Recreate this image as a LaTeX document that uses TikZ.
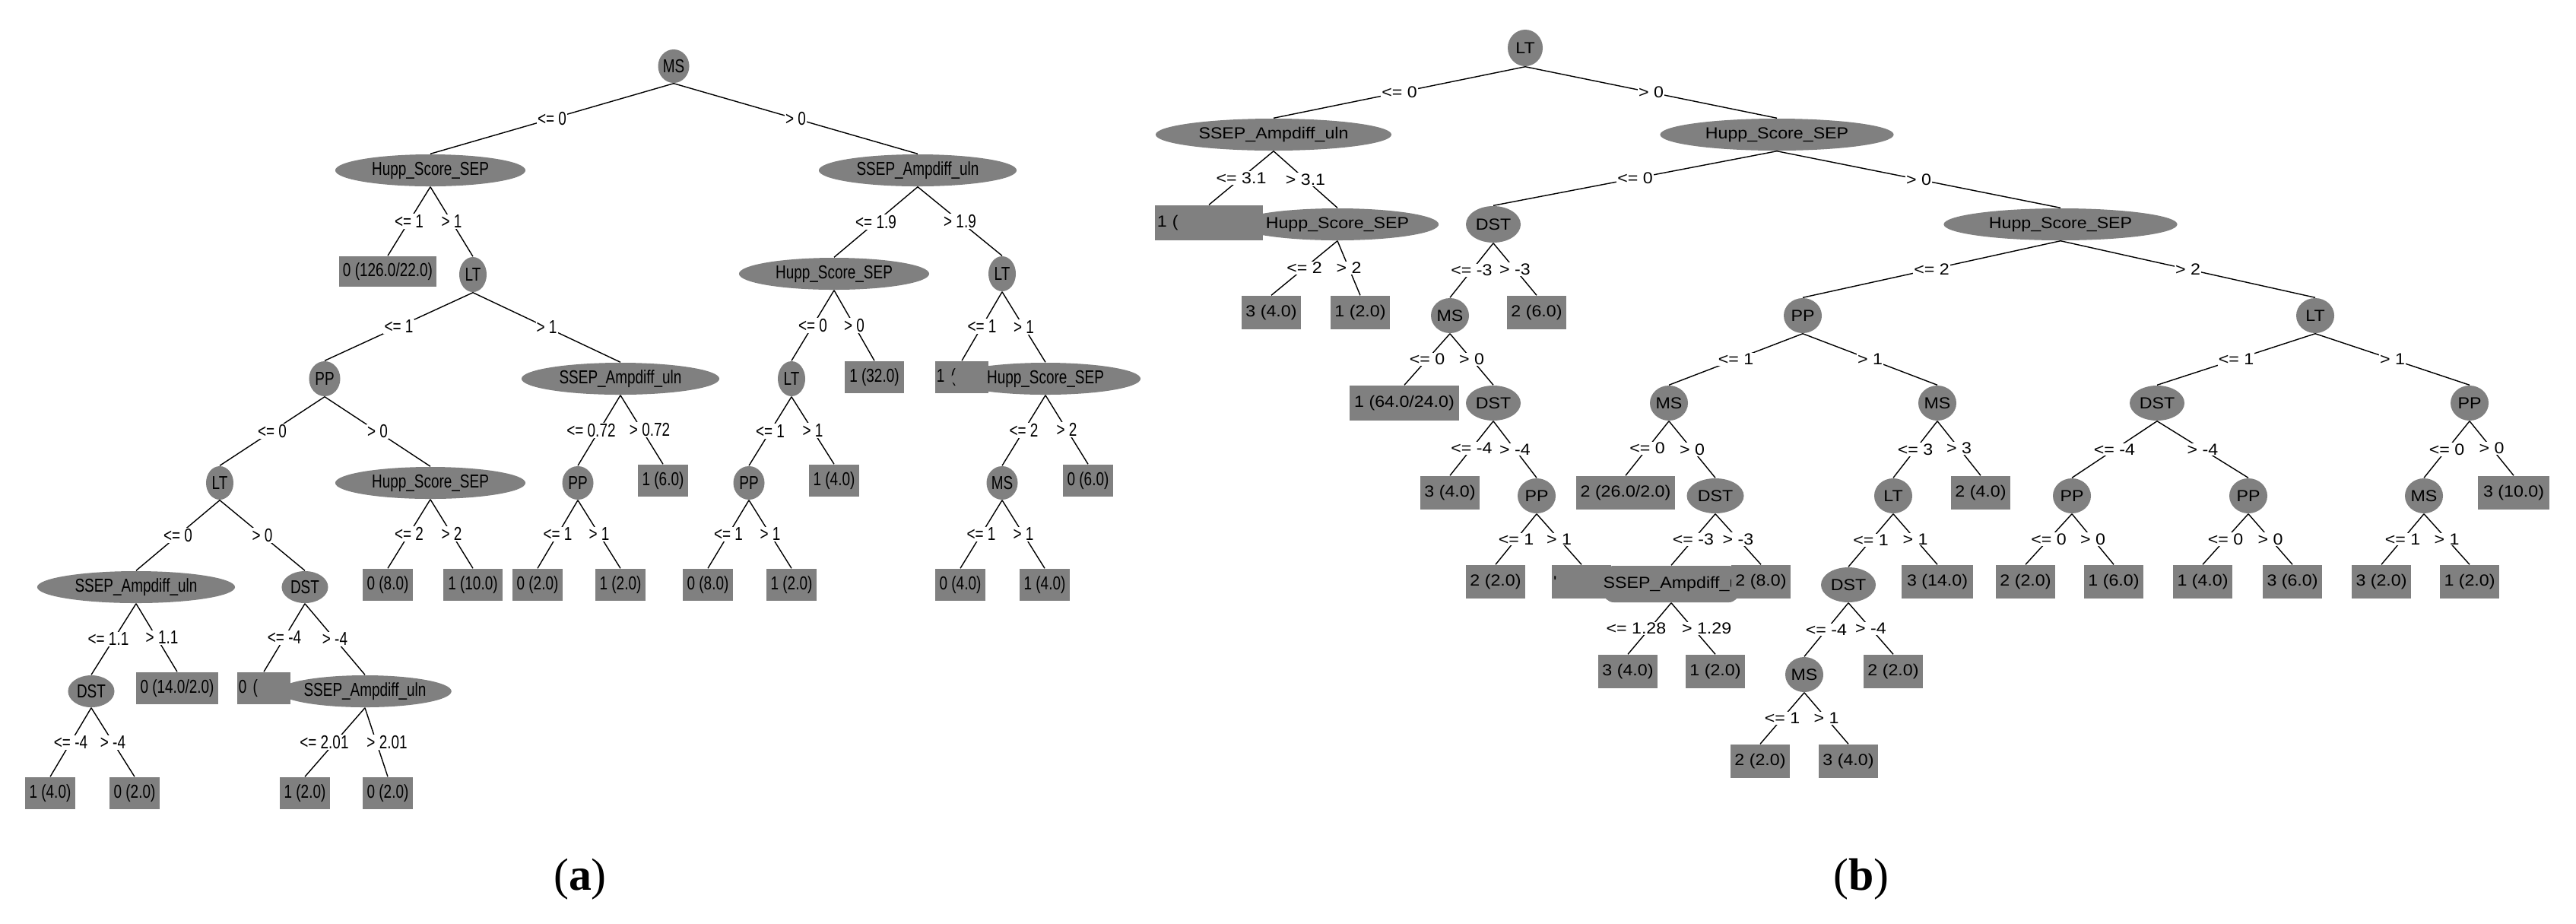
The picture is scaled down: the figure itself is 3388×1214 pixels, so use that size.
\documentclass[tikz,border=0pt]{standalone}
\usepackage{fontspec}
\setmainfont{Liberation Serif}
\newfontfamily\fa[FakeStretch=0.77]{Liberation Sans}
\newfontfamily\fb[FakeStretch=1.1]{Liberation Sans}
\usetikzlibrary{shapes.geometric}
\definecolor{ng}{HTML}{808080}
\tikzset{
 x=0.01cm,y=-0.01cm,
 ea/.style={ellipse,fill=ng,inner sep=0pt,minimum height=0.42cm,font=\fa\fontsize{7}{8}\selectfont},
 la/.style={rectangle,fill=ng,inner sep=0pt,minimum width=0.66cm,minimum height=0.42cm,font=\fa\fontsize{7}{8}\selectfont},
 eb/.style={ellipse,fill=ng,inner sep=0pt,minimum height=0.46cm,font=\fb\fontsize{6}{7}\selectfont},
 lb/.style={rectangle,fill=ng,inner sep=0pt,minimum width=0.78cm,minimum height=0.44cm,font=\fb\fontsize{6}{7}\selectfont},
 ed/.style={draw=black,line width=0.4pt},
 lba/.style={midway,fill=white,inner sep=0.3pt,font=\fa\fontsize{7}{8}\selectfont},
 lbb/.style={midway,fill=white,inner sep=0.3pt,font=\fb\fontsize{6}{7}\selectfont},
}
\newcommand{\ea}[4]{\draw[ed] (#1.south) -- node[lba,#4]{#3} (#2.north);}
\newcommand{\eb}[4]{\draw[ed] (#1.south) -- node[lbb,#4]{#3} (#2.north);}
\begin{document}
\begin{tikzpicture}
\useasboundingbox (0,0) rectangle (3388,1214);
% ---------- tree (a)
\node[ea,minimum width=0.41cm,minimum height=0.44cm] (aMS) at (886,87) {MS};
\node[ea,minimum width=2.5cm] (aH1) at (566,224) {Hupp\_Score\_SEP};
\node[ea,minimum width=2.6cm] (aS1) at (1207,224) {SSEP\_Ampdiff\_uln};
\node[la,minimum width=1.28cm,minimum height=0.40cm] (aL1) at (510,357) {0 (126.0/22.0)};
\node[ea,minimum width=0.36cm,minimum height=0.46cm] (aLT1) at (622,361) {LT};
\node[ea,minimum width=0.41cm,minimum height=0.46cm] (aPP1) at (427,498) {PP};
\node[ea,minimum width=2.6cm] (aS2) at (816,498) {SSEP\_Ampdiff\_uln};
\node[ea,minimum width=2.5cm] (aH2) at (1097,360) {Hupp\_Score\_SEP};
\node[ea,minimum width=0.36cm,minimum height=0.46cm] (aLT2) at (1318,360) {LT};
\node[ea,minimum width=0.36cm,minimum height=0.46cm] (aLT3) at (1041,498) {LT};
\node[la,minimum width=0.77cm] (aL2) at (1150,496) {1 (32.0)};
\node[la,minimum width=0.70cm,align=left,text width=0.66cm] (aL3) at (1265,496) {1 (};
\node[ea,minimum width=2.5cm] (aH3) at (1375,498) {Hupp\_Score\_SEP};
\node[ea,minimum width=0.36cm,minimum height=0.44cm] (aLT4) at (289,635) {LT};
\node[ea,minimum width=2.5cm] (aH4) at (566,635) {Hupp\_Score\_SEP};
\node[ea,minimum width=0.41cm,minimum height=0.44cm] (aPP2) at (760,635) {PP};
\node[la] (aL4) at (872,632) {1 (6.0)};
\node[ea,minimum width=0.41cm,minimum height=0.44cm] (aPP3) at (985,635) {PP};
\node[la] (aL5) at (1097,632) {1 (4.0)};
\node[ea,minimum width=0.41cm,minimum height=0.44cm] (aMS2) at (1318,635) {MS};
\node[la] (aL6) at (1431,632) {0 (6.0)};
\node[la] (aL7) at (510,769) {0 (8.0)};
\node[la,minimum width=0.77cm] (aL8) at (622,769) {1 (10.0)};
\node[la] (aL9) at (707,769) {0 (2.0)};
\node[la] (aL10) at (816,769) {1 (2.0)};
\node[la] (aL11) at (931,769) {0 (8.0)};
\node[la] (aL12) at (1041,769) {1 (2.0)};
\node[la] (aL13) at (1263,769) {0 (4.0)};
\node[la] (aL14) at (1374,769) {1 (4.0)};
\node[ea,minimum width=2.6cm] (aS3) at (179,772) {SSEP\_Ampdiff\_uln};
\node[ea,minimum width=0.61cm] (aDST1) at (401,772) {DST};
\node[ea,minimum width=0.61cm] (aDST2) at (120,909) {DST};
\node[la,minimum width=1.07cm] (aL15) at (233,905) {0 (14.0/2.0)};
\node[la,minimum width=0.70cm,align=left,text width=0.66cm] (aL16) at (347,905) {0 (};
\node[ea,minimum width=2.15cm] (aS4) at (480,909) {SSEP\_Ampdiff\_uln};
\node[la] (aL17) at (66,1043) {1 (4.0)};
\node[la] (aL18) at (177,1043) {0 (2.0)};
\node[la] (aL19) at (401,1043) {1 (2.0)};
\node[la] (aL20) at (510,1043) {0 (2.0)};
\ea{aMS}{aH1}{<= 0}{}\ea{aMS}{aS1}{> 0}{}
\ea{aH1}{aL1}{<= 1}{}\ea{aH1}{aLT1}{> 1}{}
\ea{aS1}{aH2}{<= 1.9}{}\ea{aS1}{aLT2}{> 1.9}{}
\ea{aLT1}{aPP1}{<= 1}{}\ea{aLT1}{aS2}{> 1}{}
\ea{aH2}{aLT3}{<= 0}{}\ea{aH2}{aL2}{> 0}{}
\ea{aLT2}{aL3}{<= 1}{}\ea{aLT2}{aH3}{> 1}{}
\ea{aPP1}{aLT4}{<= 0}{}\ea{aPP1}{aH4}{> 0}{}
\ea{aS2}{aPP2}{<= 0.72}{xshift=-3}\ea{aS2}{aL4}{> 0.72}{xshift=3}
\ea{aLT3}{aPP3}{<= 1}{}\ea{aLT3}{aL5}{> 1}{}
\ea{aH3}{aMS2}{<= 2}{}\ea{aH3}{aL6}{> 2}{}
\ea{aH4}{aL7}{<= 2}{}\ea{aH4}{aL8}{> 2}{}
\ea{aPP2}{aL9}{<= 1}{}\ea{aPP2}{aL10}{> 1}{}
\ea{aPP3}{aL11}{<= 1}{}\ea{aPP3}{aL12}{> 1}{}
\ea{aMS2}{aL13}{<= 1}{}\ea{aMS2}{aL14}{> 1}{}
\ea{aLT4}{aS3}{<= 0}{}\ea{aLT4}{aDST1}{> 0}{}
\ea{aS3}{aDST2}{<= 1.1}{xshift=-2}\ea{aS3}{aL15}{> 1.1}{xshift=2}
\ea{aDST1}{aL16}{<= -4}{}\ea{aDST1}{aS4}{> -4}{}
\ea{aDST2}{aL17}{<= -4}{}\ea{aDST2}{aL18}{> -4}{}
\ea{aS4}{aL19}{<= 2.01}{xshift=-4}\ea{aS4}{aL20}{> 2.01}{xshift=4}
% ---------- tree (b)
\node[eb,minimum width=0.46cm,minimum height=0.48cm] (bLT) at (2006,63) {LT};
\node[eb,minimum width=3.1cm,minimum height=0.42cm] (bS1) at (1675,177) {SSEP\_Ampdiff\_uln};
\node[eb,minimum width=3.07cm,minimum height=0.42cm] (bH1) at (2337,177) {Hupp\_Score\_SEP};
\node[lb,minimum width=1.42cm,minimum height=0.46cm,align=left,text width=1.36cm] (bL1) at (1590,293) {1 (};
\node[eb,minimum width=2.53cm,minimum height=0.42cm] (bH2) at (1759,295) {Hupp\_Score\_SEP};
\node[eb,minimum width=0.72cm,minimum height=0.48cm] (bDST1) at (1964,295) {DST};
\node[eb,minimum width=3.07cm,minimum height=0.42cm] (bH3) at (2710,295) {Hupp\_Score\_SEP};
\node[lb] (bL2) at (1672,411) {3 (4.0)};
\node[lb] (bL3) at (1789,411) {1 (2.0)};
\node[eb,minimum width=0.50cm] (bMS1) at (1907,415) {MS};
\node[lb] (bL4) at (2021,411) {2 (6.0)};
\node[eb,minimum width=0.50cm] (bPP1) at (2371,415) {PP};
\node[eb,minimum width=0.50cm] (bLT2) at (3045,415) {LT};
\node[lb,minimum width=1.44cm,minimum height=0.46cm] (bL5) at (1847,530) {1 (64.0/24.0)};
\node[eb,minimum width=0.72cm] (bDST2) at (1964,530) {DST};
\node[eb,minimum width=0.50cm] (bMS2) at (2195,530) {MS};
\node[eb,minimum width=0.50cm] (bMS3) at (2548,530) {MS};
\node[eb,minimum width=0.72cm] (bDST3) at (2837,530) {DST};
\node[eb,minimum width=0.50cm] (bPP2) at (3248,530) {PP};
\node[lb] (bL6) at (1907,648) {3 (4.0)};
\node[eb,minimum width=0.50cm] (bPP3) at (2021,652) {PP};
\node[lb,minimum width=1.30cm] (bL7) at (2138,648) {2 (26.0/2.0)};
\node[eb,minimum width=0.75cm] (bDST4) at (2256,652) {DST};
\node[eb,minimum width=0.50cm] (bLT3) at (2490,652) {LT};
\node[lb] (bL8) at (2605,648) {2 (4.0)};
\node[eb,minimum width=0.50cm] (bPP4) at (2725,652) {PP};
\node[eb,minimum width=0.50cm] (bPP5) at (2957,652) {PP};
\node[eb,minimum width=0.50cm] (bMS4) at (3188,652) {MS};
\node[lb,minimum width=0.94cm] (bL9) at (3306,648) {3 (10.0)};
\node[lb] (bL10) at (1967,765) {2 (2.0)};
\node[lb,align=left,text width=0.74cm] (bL11) at (2080,765) {'};
\node[rectangle,rounded corners=4pt,fill=ng,minimum width=1.6cm,minimum height=0.48cm,inner sep=0pt,font=\fb\fontsize{6}{7}\selectfont] (bS2) at (2198,768) {SSEP\_Ampdiff\_u};
\node[lb] (bL12) at (2316,765) {2 (8.0)};
\node[eb,minimum width=0.72cm] (bDST5) at (2431,769) {DST};
\node[lb,minimum width=0.94cm] (bL13) at (2548,765) {3 (14.0)};
\node[lb] (bL14) at (2664,765) {2 (2.0)};
\node[lb] (bL15) at (2780,765) {1 (6.0)};
\node[lb] (bL16) at (2897,765) {1 (4.0)};
\node[lb] (bL17) at (3015,765) {3 (6.0)};
\node[lb] (bL18) at (3132,765) {3 (2.0)};
\node[lb] (bL19) at (3248,765) {1 (2.0)};
\node[lb] (bL20) at (2141,883) {3 (4.0)};
\node[lb] (bL21) at (2256,883) {1 (2.0)};
\node[eb,minimum width=0.50cm] (bMS5) at (2373,887) {MS};
\node[lb] (bL22) at (2490,883) {2 (2.0)};
\node[lb] (bL23) at (2315,1001) {2 (2.0)};
\node[lb] (bL24) at (2431,1001) {3 (4.0)};
\eb{bLT}{bS1}{<= 0}{}\eb{bLT}{bH1}{> 0}{}
\eb{bS1}{bL1}{<= 3.1}{}\eb{bS1}{bH2}{> 3.1}{}
\eb{bH1}{bDST1}{<= 0}{}\eb{bH1}{bH3}{> 0}{}
\eb{bH2}{bL2}{<= 2}{}\eb{bH2}{bL3}{> 2}{}
\eb{bDST1}{bMS1}{<= -3}{}\eb{bDST1}{bL4}{> -3}{}
\eb{bH3}{bPP1}{<= 2}{}\eb{bH3}{bLT2}{> 2}{}
\eb{bMS1}{bL5}{<= 0}{}\eb{bMS1}{bDST2}{> 0}{}
\eb{bPP1}{bMS2}{<= 1}{}\eb{bPP1}{bMS3}{> 1}{}
\eb{bLT2}{bDST3}{<= 1}{}\eb{bLT2}{bPP2}{> 1}{}
\eb{bDST2}{bL6}{<= -4}{}\eb{bDST2}{bPP3}{> -4}{}
\eb{bMS2}{bL7}{<= 0}{}\eb{bMS2}{bDST4}{> 0}{}
\eb{bMS3}{bLT3}{<= 3}{}\eb{bMS3}{bL8}{> 3}{}
\eb{bDST3}{bPP4}{<= -4}{}\eb{bDST3}{bPP5}{> -4}{}
\eb{bPP2}{bMS4}{<= 0}{}\eb{bPP2}{bL9}{> 0}{}
\eb{bPP3}{bL10}{<= 1}{}\eb{bPP3}{bL11}{> 1}{}
\eb{bDST4}{bS2}{<= -3}{}\eb{bDST4}{bL12}{> -3}{}
\eb{bLT3}{bDST5}{<= 1}{}\eb{bLT3}{bL13}{> 1}{}
\eb{bPP4}{bL14}{<= 0}{}\eb{bPP4}{bL15}{> 0}{}
\eb{bPP5}{bL16}{<= 0}{}\eb{bPP5}{bL17}{> 0}{}
\eb{bMS4}{bL18}{<= 1}{}\eb{bMS4}{bL19}{> 1}{}
\eb{bS2}{bL20}{<= 1.28}{xshift=-5}\eb{bS2}{bL21}{> 1.29}{xshift=5}
\eb{bDST5}{bMS5}{<= -4}{}\eb{bDST5}{bL22}{> -4}{}
\eb{bMS5}{bL23}{<= 1}{}\eb{bMS5}{bL24}{> 1}{}
% captions
\node[font=\fontsize{17}{20}\selectfont] (capa) at (763,1156) {(\textbf{a})};
\node[font=\fontsize{17}{20}\selectfont] (capb) at (2448,1156) {(\textbf{b})};
\end{tikzpicture}
\end{document}
